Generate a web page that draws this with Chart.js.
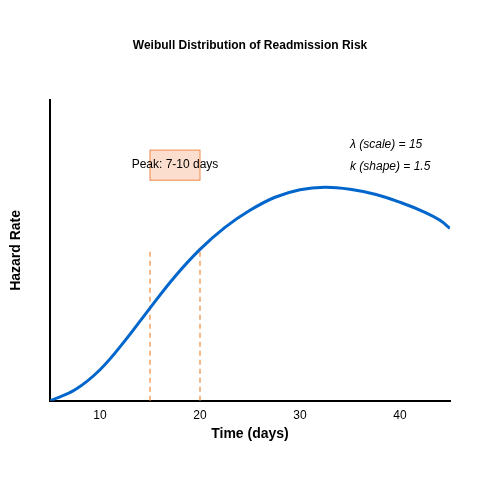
<!DOCTYPE html>
<html>
<head>
<script src="https://cdn.jsdelivr.net/npm/chart.js@4"></script>
<style>body{margin:0;background:#fff}#wrap{width:500px;height:500px}</style>
</head>
<body>
<div id="wrap"><canvas id="c"></canvas></div>
<script>
const days = [5, 7.5, 10, 12.5, 15, 17.5, 20, 22.5, 25, 27.5, 30, 32.5, 35, 37.5, 40, 42.5, 44, 45];
const hazard = [0, 0.22, 0.62, 1.2, 1.85, 2.48, 3.02, 3.46, 3.8, 4.06, 4.21, 4.26, 4.22, 4.12, 3.96, 3.76, 3.6, 3.44];
const peakStart = 15, peakEnd = 20, peakLineTop = 3;
const boxLow = 4.4, boxHigh = 5;
const xTicks = [10, 20, 30, 40];
const FONT = 'Liberation Sans, Arial';

const overlay = {
  id: 'overlay',
  beforeDatasetsDraw(chart) {
    const {ctx, scales: {x, y}} = chart;
    ctx.save();
    ctx.fillStyle = '#000';
    ctx.font = 'bold 12px ' + FONT;
    ctx.textAlign = 'center';
    ctx.textBaseline = 'middle';
    ctx.fillText('Weibull Distribution of Readmission Risk', 250, 46);
    const x0 = x.getPixelForValue(peakStart), x1 = x.getPixelForValue(peakEnd);
    const y0 = y.getPixelForValue(boxHigh), y1 = y.getPixelForValue(boxLow);
    ctx.fillStyle = 'rgba(250,200,175,0.6)';
    ctx.strokeStyle = '#f0884a';
    ctx.lineWidth = 1;
    ctx.fillRect(x0, y0, x1 - x0, y1 - y0);
    ctx.strokeRect(x0, y0, x1 - x0, y1 - y0);
    ctx.fillStyle = '#000';
    ctx.font = '12px ' + FONT;
    ctx.fillText('Peak: 7-10 days', (x0 + x1) / 2, (y0 + y1) / 2);
    ctx.font = 'italic 12px ' + FONT;
    ctx.textAlign = 'left';
    ctx.fillText('λ (scale) = 15', x.getPixelForValue(35), y.getPixelForValue(5.1));
    ctx.fillText('k (shape) = 1.5', x.getPixelForValue(35), y.getPixelForValue(4.68));
    ctx.restore();
  }
};

new Chart(document.getElementById('c'), {
  type: 'line',
  data: {
    datasets: [
      { data: days.map((d, i) => ({x: d, y: hazard[i]})), borderColor: '#0066cc', borderWidth: 3, pointRadius: 0, tension: 0.4 },
      { data: [{x: peakStart, y: 0}, {x: peakStart, y: peakLineTop}], borderColor: '#f5a060', borderWidth: 1.5, borderDash: [5, 4], pointRadius: 0 },
      { data: [{x: peakEnd, y: 0}, {x: peakEnd, y: peakLineTop}], borderColor: '#f5a060', borderWidth: 1.5, borderDash: [5, 4], pointRadius: 0 }
    ]
  },
  options: {
    responsive: true, maintainAspectRatio: false, animation: false,
    layout: { padding: { top: 100, right: 50, bottom: 57, left: 8 } },
    plugins: { legend: { display: false }, tooltip: { enabled: false } },
    scales: {
      x: {
        type: 'linear', min: 5, max: 45,
        grid: { display: false, drawTicks: true, tickLength: 5, tickColor: '#000' },
        border: { color: '#000', width: 2 },
        afterBuildTicks: s => { s.ticks = xTicks.map(v => ({value: v})); },
        ticks: { color: '#000', font: { size: 12, family: FONT } },
        title: { display: true, text: 'Time (days)', color: '#000', font: { size: 14, weight: 'bold', family: FONT }, padding: 0 }
      },
      y: {
        min: 0, max: 6,
        grid: { display: false, drawTicks: true, tickLength: 5, tickColor: '#000' },
        border: { color: '#000', width: 2 },
        ticks: { stepSize: 1, callback: () => ' ', padding: 0 },
        title: { display: true, text: 'Hazard Rate', color: '#000', font: { size: 14, weight: 'bold', family: FONT }, padding: 0 },
        afterFit: s => { s.width = 42; }
      }
    }
  },
  plugins: [overlay]
});
</script>
</body>
</html>
